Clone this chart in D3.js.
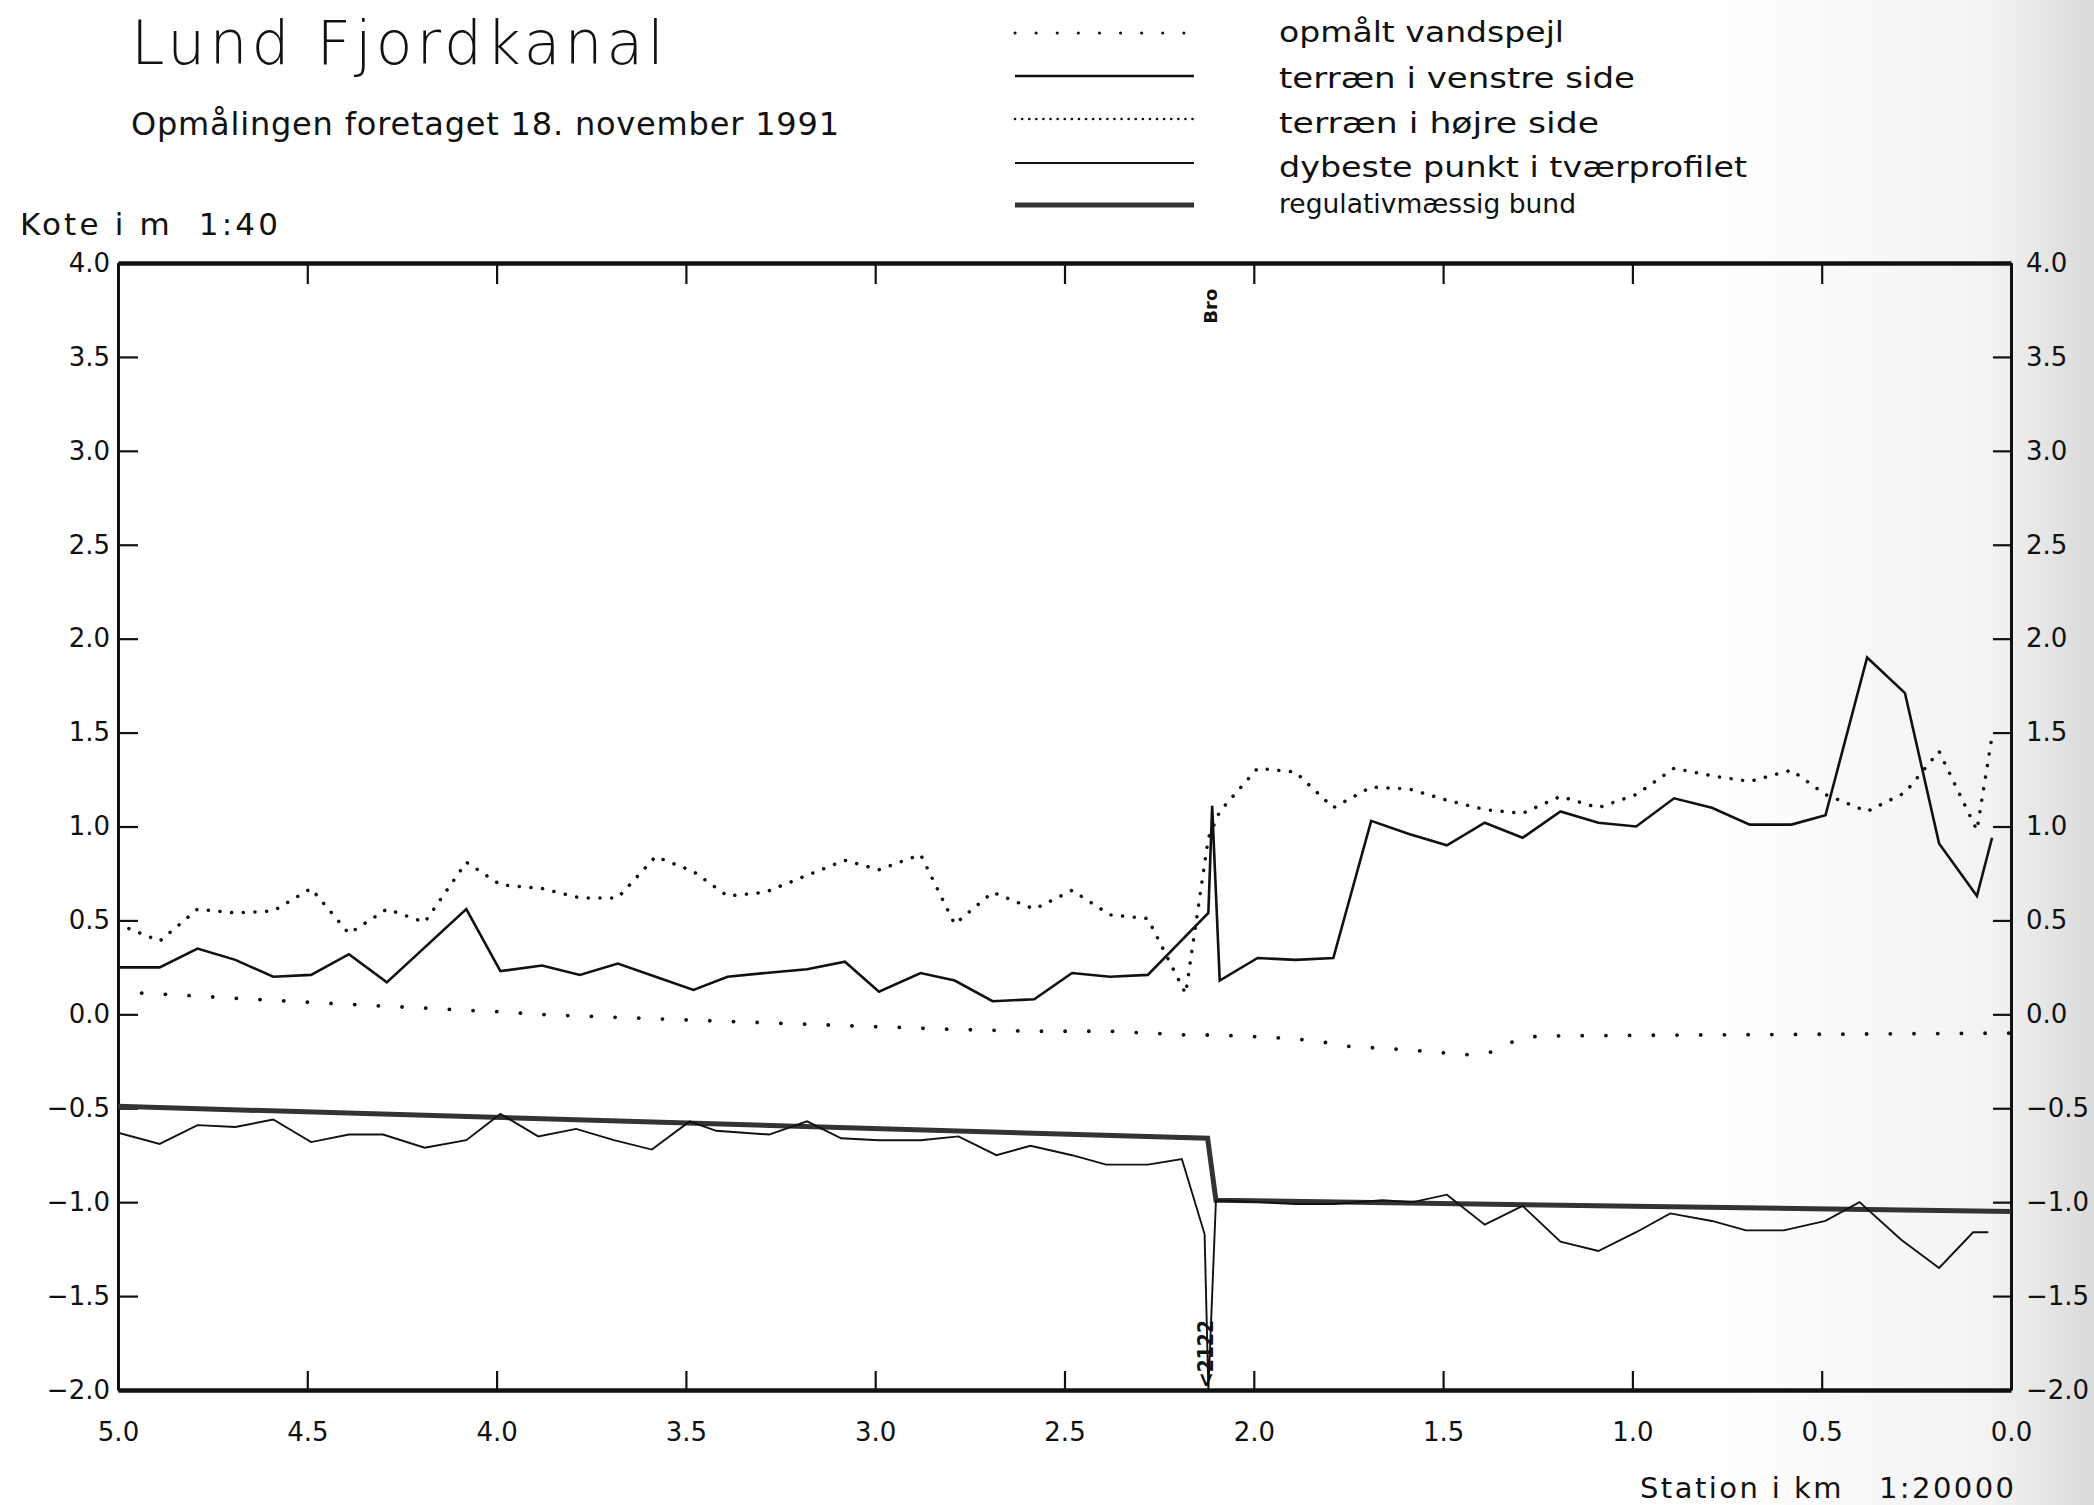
<!DOCTYPE html>
<html>
<head>
<meta charset="utf-8">
<script src="https://cdn.jsdelivr.net/npm/d3@7"></script>
<style>
  body { margin: 0; background: #fff; }
  text { font-family: "DejaVu Sans", sans-serif; fill: #111; }
</style>
</head>
<body>
<svg id="chart"></svg>
<script>
const width = 2094;
const height = 1505;

// station (km) and level (m)
const terrainLeft = [
  [5.00,0.25],[4.89,0.25],[4.79,0.35],[4.69,0.29],[4.59,0.20],[4.49,0.21],[4.39,0.32],[4.29,0.17],
  [4.08,0.56],[3.99,0.23],[3.88,0.26],[3.78,0.21],[3.68,0.27],[3.58,0.20],[3.48,0.13],[3.39,0.20],
  [3.29,0.22],[3.18,0.24],[3.08,0.28],[2.99,0.12],[2.88,0.22],[2.79,0.18],[2.69,0.07],[2.58,0.08],
  [2.48,0.22],[2.38,0.20],[2.28,0.21],[2.12,0.54],[2.11,1.11],[2.09,0.18],[1.99,0.30],[1.89,0.29],
  [1.79,0.30],[1.69,1.03],[1.59,0.96],[1.49,0.90],[1.39,1.02],[1.29,0.94],[1.19,1.08],[1.09,1.02],
  [0.99,1.00],[0.89,1.15],[0.79,1.10],[0.69,1.01],[0.58,1.01],[0.49,1.06],[0.38,1.90],[0.28,1.71],
  [0.19,0.91],[0.09,0.63],[0.05,0.94]
];
const terrainRight = [
  [5.00,0.48],[4.89,0.39],[4.79,0.56],[4.69,0.54],[4.59,0.55],[4.49,0.67],[4.39,0.43],[4.29,0.56],
  [4.19,0.49],[4.08,0.81],[3.99,0.69],[3.88,0.67],[3.78,0.62],[3.68,0.62],[3.58,0.84],[3.48,0.76],
  [3.39,0.63],[3.29,0.65],[3.18,0.74],[3.08,0.82],[2.99,0.77],[2.88,0.85],[2.79,0.48],[2.69,0.65],
  [2.58,0.56],[2.48,0.66],[2.38,0.53],[2.28,0.51],[2.18,0.11],[2.12,0.94],[2.09,1.08],[1.99,1.31],
  [1.89,1.29],[1.79,1.10],[1.69,1.21],[1.59,1.20],[1.49,1.14],[1.39,1.09],[1.29,1.07],[1.19,1.16],
  [1.09,1.10],[0.99,1.17],[0.89,1.31],[0.79,1.27],[0.69,1.24],[0.58,1.30],[0.49,1.17],[0.38,1.08],
  [0.28,1.18],[0.19,1.40],[0.09,0.98],[0.05,1.48]
];
const waterLevel = [
  [5.00,0.12],[4.46,0.06],[3.96,0.01],[3.90,0.00],[3.36,-0.04],[3.08,-0.06],[2.79,-0.08],[2.58,-0.09],
  [2.38,-0.09],[2.28,-0.10],[2.18,-0.11],[2.09,-0.11],[1.99,-0.12],[1.89,-0.13],[1.79,-0.155],
  [1.75,-0.17],[1.59,-0.19],[1.44,-0.215],[1.37,-0.20],[1.31,-0.14],[1.25,-0.115],[0.00,-0.10]
];
const deepest = [
  [5.00,-0.63],[4.89,-0.69],[4.79,-0.59],[4.69,-0.60],[4.59,-0.56],[4.49,-0.68],[4.39,-0.64],[4.30,-0.64],
  [4.19,-0.71],[4.08,-0.67],[3.99,-0.53],[3.89,-0.65],[3.79,-0.61],[3.69,-0.67],[3.59,-0.72],[3.49,-0.57],
  [3.42,-0.62],[3.28,-0.64],[3.18,-0.57],[3.09,-0.66],[2.99,-0.67],[2.88,-0.67],[2.78,-0.65],[2.68,-0.75],
  [2.59,-0.70],[2.48,-0.75],[2.39,-0.80],[2.28,-0.80],[2.19,-0.77],[2.13,-1.17],[2.12,-2.00],[2.10,-0.99],
  [1.99,-1.00],[1.89,-1.01],[1.79,-1.01],[1.66,-0.99],[1.58,-1.00],[1.49,-0.96],[1.39,-1.12],[1.29,-1.02],
  [1.19,-1.21],[1.09,-1.26],[0.99,-1.16],[0.90,-1.06],[0.79,-1.10],[0.70,-1.15],[0.60,-1.15],[0.49,-1.10],
  [0.40,-1.00],[0.29,-1.20],[0.19,-1.35],[0.10,-1.16],[0.06,-1.16]
];
const designBed = [[5.0,-0.49],[2.122,-0.66],[2.10,-0.99],[0.0,-1.05]];

const yTicks = [-2.0,-1.5,-1.0,-0.5,0.0,0.5,1.0,1.5,2.0,2.5,3.0,3.5,4.0];
const xTicks = [5.0,4.5,4.0,3.5,3.0,2.5,2.0,1.5,1.0,0.5,0.0];
const legendLabels = ["opmålt vandspejl","terræn i venstre side","terræn i højre side",
                      "dybeste punkt i tværprofilet","regulativmæssig bund"];

const svg = d3.select('#chart').attr('width', width).attr('height', height);

// scanned paper goes a bit grey at the right edge
const defs = svg.append('defs');
const grad = defs.append('linearGradient').attr('id', 'paper').attr('x1', 0).attr('x2', 1);
grad.append('stop').attr('offset', '0.82').attr('stop-color', '#ffffff');
grad.append('stop').attr('offset', '0.95').attr('stop-color', '#f3f3f3');
grad.append('stop').attr('offset', '1').attr('stop-color', '#dadada');
svg.append('rect').attr('width', width).attr('height', height).attr('fill', 'url(#paper)');

const x = d3.scaleLinear().domain([5, 0]).range([118, 2011]);
const y = d3.scaleLinear().domain([-2, 4]).range([1390, 263]);
const fmt = d3.format('.1f');

defs.append('clipPath').attr('id', 'plot').append('rect')
    .attr('x', x(5)).attr('y', y(4)).attr('width', x(0) - x(5)).attr('height', y(-2) - y(4));

// axes
function styleAxis(g, w) {
    g.select('.domain').attr('stroke', '#111').attr('stroke-width', w);
    g.selectAll('.tick line').attr('stroke', '#111').attr('stroke-width', 2.2);
    g.selectAll('.tick text').attr('font-size', 26).attr('font-family', 'DejaVu Sans').attr('fill', '#111');
}
svg.append('g').attr('transform', `translate(${x(5)},0)`)
    .call(d3.axisLeft(y).tickValues(yTicks).tickSize(-20).tickSizeOuter(0).tickPadding(8).tickFormat(fmt))
    .call(g => styleAxis(g, 3));
svg.append('g').attr('transform', `translate(${x(0)},0)`)
    .call(d3.axisRight(y).tickValues(yTicks).tickSize(-18).tickSizeOuter(0).tickPadding(15).tickFormat(fmt))
    .call(g => styleAxis(g, 3));
svg.append('g').attr('transform', `translate(0,${y(-2)})`)
    .call(d3.axisBottom(x).tickValues(xTicks).tickSize(-19).tickSizeOuter(0).tickPadding(33).tickFormat(fmt))
    .call(g => styleAxis(g, 4.5));
svg.append('g').attr('transform', `translate(0,${y(4)})`)
    .call(d3.axisTop(x).tickValues(xTicks).tickSize(-21).tickSizeOuter(0).tickFormat(''))
    .call(g => styleAxis(g, 4.5));

// series
const line = d3.line().x(d => x(d[0])).y(d => y(d[1]));
const plot = svg.append('g').attr('clip-path', 'url(#plot)');
const series = [
    {data: waterLevel,   w: 3.8, dash: '0.1 23.6', cap: 'round', col: '#111'},
    {data: terrainRight, w: 3.5, dash: '0.1 11.6', cap: 'round', col: '#111'},
    {data: designBed,    w: 5,   dash: null,       cap: 'butt',  col: '#333'},
    {data: deepest,      w: 1.9, dash: null,       cap: 'butt',  col: '#111'},
    {data: terrainLeft,  w: 2.6, dash: null,       cap: 'butt',  col: '#111'}
];
plot.selectAll('path.series').data(series).enter().append('path')
    .attr('class', 'series')
    .attr('d', d => line(d.data))
    .attr('fill', 'none')
    .attr('stroke', d => d.col)
    .attr('stroke-width', d => d.w)
    .attr('stroke-linecap', d => d.cap)
    .attr('stroke-linejoin', 'miter')
    .attr('stroke-dasharray', d => d.dash);

// bridge annotations
svg.append('text')
    .attr('transform', `translate(${x(2.115) + 7},${y(3.77)}) rotate(-90)`)
    .attr('text-anchor', 'middle').attr('font-size', 18).attr('font-weight', 'bold')
    .text('Bro');
svg.append('text')
    .attr('transform', `translate(${x(2.122) + 5},${y(-2) - 2}) rotate(-90)`)
    .attr('text-anchor', 'start').attr('font-size', 21).attr('font-weight', 'bold')
    .attr('font-family', 'Liberation Sans Narrow, DejaVu Sans Condensed, sans-serif')
    .attr('textLength', 68).attr('lengthAdjust', 'spacingAndGlyphs')
    .text('<2122');

// titles
svg.append('text').attr('x', 131).attr('y', 64).attr('font-size', 60).attr('font-weight', 200)
    .attr('textLength', 533).attr('lengthAdjust', 'spacing').text('Lund Fjordkanal');
svg.append('text').attr('x', 131).attr('y', 135).attr('font-size', 32)
    .attr('textLength', 708).attr('lengthAdjust', 'spacing').text('Opmålingen foretaget 18. november 1991');
svg.append('text').attr('x', 20).attr('y', 235).attr('font-size', 31)
    .attr('textLength', 258).attr('lengthAdjust', 'spacing').text('Kote i m\u00a0\u00a01:40');
svg.append('text').attr('x', 1640).attr('y', 1498).attr('font-size', 29)
    .attr('textLength', 374).attr('lengthAdjust', 'spacing').text('Station i km\u00a0\u00a0\u00a01:20000');

// legend
const legendY = [33, 76, 119, 163, 205];
const legendTextY = [42, 88, 133, 177, 213];
const legendW = [285, 356, 320, 468, 297];
const legendStyle = [
    {w: 3, dash: '0.1 21', cap: 'round'},
    {w: 2.6, dash: null, cap: 'butt'},
    {w: 2.6, dash: '0.1 7', cap: 'round'},
    {w: 1.9, dash: null, cap: 'butt'},
    {w: 5, dash: null, cap: 'butt'}
];
const legend = svg.append('g');
legendLabels.forEach((lab, i) => {
    legend.append('line').attr('x1', 1015).attr('x2', 1194)
        .attr('y1', legendY[i]).attr('y2', legendY[i])
        .attr('stroke', i === 4 ? '#333' : '#111').attr('stroke-width', legendStyle[i].w)
        .attr('stroke-linecap', legendStyle[i].cap).attr('stroke-dasharray', legendStyle[i].dash);
    legend.append('text').attr('x', 1279).attr('y', legendTextY[i])
        .attr('font-size', i === 4 ? 27 : 29)
        .attr('font-family', i === 4 ? 'Liberation Sans Narrow, DejaVu Sans Condensed, sans-serif' : 'DejaVu Sans')
        .attr('textLength', legendW[i]).attr('lengthAdjust', 'spacingAndGlyphs')
        .text(lab);
});
</script>
</body>
</html>
